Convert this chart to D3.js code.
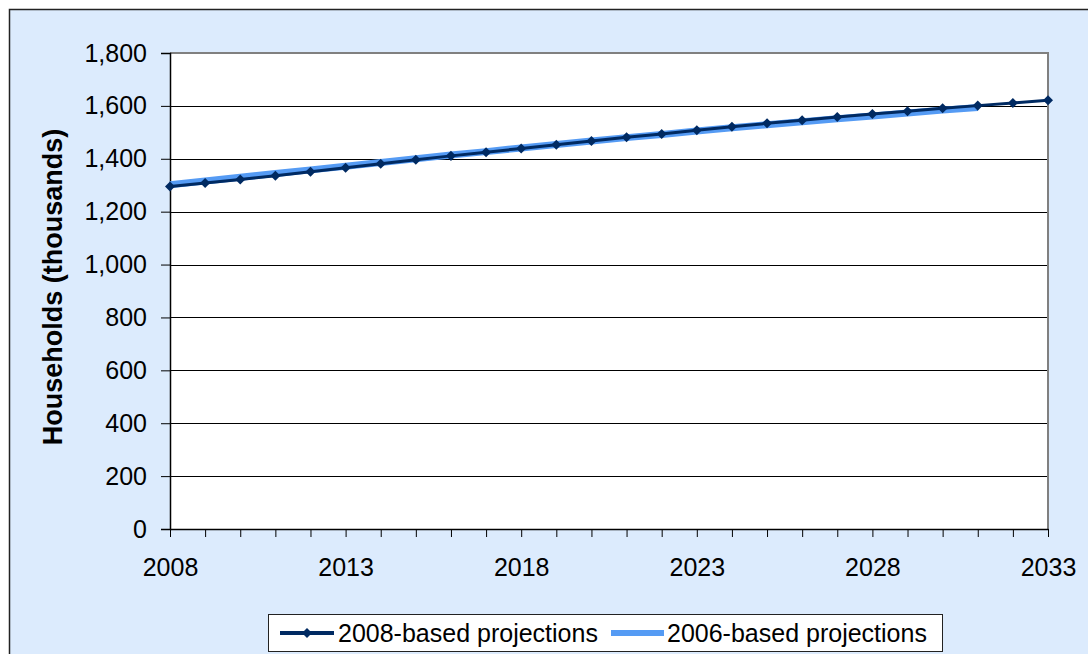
<!DOCTYPE html>
<html>
<head>
<meta charset="utf-8">
<script src="https://cdn.jsdelivr.net/npm/d3@7"></script>
<style>
  body { margin: 0; background: #fff; }
  svg { display: block; font-family: "Liberation Sans", Arial, sans-serif; }
</style>
</head>
<body>
<svg id="chart" width="1088" height="654"></svg>
<script>
// data
const years = d3.range(2008, 2034)
const proj2008 = [1295, 1308, 1322, 1336, 1351, 1366, 1381, 1396, 1411, 1425, 1439, 1453, 1467,
                  1481, 1494, 1508, 1521, 1534, 1546, 1558, 1569, 1580, 1591, 1601, 1611, 1621]
const proj2006 = [1302, 1316, 1330, 1344, 1358, 1372, 1386, 1400, 1414, 1427, 1441, 1454, 1467,
                  1480, 1492, 1505, 1517, 1529, 1540, 1551, 1562, 1573, 1584, 1594]
const yTicks = [0, 200, 400, 600, 800, 1000, 1200, 1400, 1600, 1800]
const xLabels = [2008, 2013, 2018, 2023, 2028, 2033]
const seriesNames = ["2008-based projections", "2006-based projections"]

const dark = "#002a62"
const light = "#559bf4"

const svg = d3.select("#chart")

// chart area
svg.append("rect")
    .attr("x", 9.5).attr("y", 9.5)
    .attr("width", 1088).attr("height", 654)
    .attr("fill", "#dcebfd")
    .attr("stroke", "#222").attr("stroke-width", 1.5)

const plot = { left: 170, right: 1048, top: 53, bottom: 529 }

const x = d3.scaleLinear().domain([2008, 2033]).range([plot.left, plot.right])
const y = d3.scaleLinear().domain([0, 1800]).range([plot.bottom, plot.top])

svg.append("rect")
    .attr("x", plot.left).attr("y", plot.top)
    .attr("width", plot.right - plot.left).attr("height", plot.bottom - plot.top)
    .attr("fill", "#fff")

// gridlines
svg.append("g")
    .selectAll("line")
    .data(yTicks.filter(d => d > 0 && d < 1800))
    .enter()
    .append("line")
    .attr("x1", plot.left).attr("x2", plot.right)
    .attr("y1", d => Math.round(y(d)) + 0.5).attr("y2", d => Math.round(y(d)) + 0.5)
    .attr("stroke", "#000").attr("stroke-width", 1)

// plot border (top + right)
svg.append("path")
    .attr("d", `M${plot.left},${plot.top}H${plot.right}V${plot.bottom}`)
    .attr("fill", "none").attr("stroke", "#808080").attr("stroke-width", 2)

// y axis
const yAxis = svg.append("g")
    .attr("transform", `translate(${plot.left},0)`)
    .call(d3.axisLeft(y).tickValues(yTicks).tickSize(9).tickPadding(14).tickFormat(d3.format(",")))
yAxis.select(".domain").attr("stroke", "#000").attr("stroke-width", 1.5)
yAxis.selectAll(".tick line").attr("stroke", "#000")
yAxis.selectAll("text")
    .attr("font-size", 25).attr("fill", "#000")
    .attr("font-family", "Liberation Sans, Arial, sans-serif")

// x axis
const xAxis = svg.append("g")
    .attr("transform", `translate(0,${plot.bottom})`)
    .call(d3.axisBottom(x).tickValues(years).tickSize(8).tickSizeOuter(0).tickPadding(21)
        .tickFormat(d => xLabels.includes(d) ? d : ""))
xAxis.select(".domain").attr("stroke", "#000").attr("stroke-width", 1.5)
xAxis.selectAll(".tick line").attr("stroke", "#000")
xAxis.selectAll("text")
    .attr("font-size", 25).attr("fill", "#000")
    .attr("font-family", "Liberation Sans, Arial, sans-serif")

// y title
svg.append("text")
    .attr("transform", `translate(62,${(plot.top + plot.bottom) / 2 - 4}) rotate(-90)`)
    .attr("text-anchor", "middle")
    .attr("font-size", 27)
    .attr("font-weight", "bold")
    .text("Households (thousands)")

const line = d3.line()
    .x((d, i) => x(years[i]))
    .y(d => y(d))

svg.append("path")
    .datum(proj2006)
    .attr("d", line)
    .attr("fill", "none")
    .attr("stroke", light)
    .attr("stroke-width", 7)

svg.append("path")
    .datum(proj2008)
    .attr("d", line)
    .attr("fill", "none")
    .attr("stroke", dark)
    .attr("stroke-width", 3)

const diamond = d3.symbol().type(d3.symbolDiamond2).size(64)
svg.append("g")
    .selectAll("path")
    .data(proj2008)
    .enter()
    .append("path")
    .attr("d", diamond)
    .attr("transform", (d, i) => `translate(${x(years[i])},${y(d)})`)
    .attr("fill", dark)

// legend
const legend = svg.append("g").attr("transform", "translate(268,614)")
legend.append("rect")
    .attr("x", 0.5).attr("y", 0.5)
    .attr("width", 674).attr("height", 37)
    .attr("fill", "#fff").attr("stroke", "#222").attr("stroke-width", 1)

legend.append("line")
    .attr("x1", 12).attr("x2", 66).attr("y1", 19).attr("y2", 19)
    .attr("stroke", dark).attr("stroke-width", 4)
legend.append("path")
    .attr("d", diamond)
    .attr("transform", "translate(39,19)")
    .attr("fill", dark)
legend.append("text")
    .attr("x", 70).attr("y", 28)
    .attr("font-size", 25)
    .text(seriesNames[0])

legend.append("line")
    .attr("x1", 343).attr("x2", 396).attr("y1", 19).attr("y2", 19)
    .attr("stroke", light).attr("stroke-width", 6)
legend.append("text")
    .attr("x", 399).attr("y", 28)
    .attr("font-size", 25)
    .text(seriesNames[1])
</script>
</body>
</html>
